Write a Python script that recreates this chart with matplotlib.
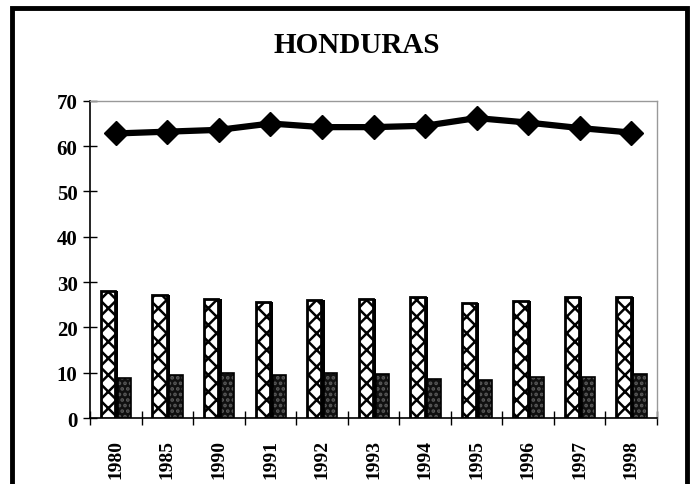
import numpy as np
import matplotlib.pyplot as plt
from matplotlib.patches import Rectangle

years = ['1980', '1985', '1990', '1991', '1992', '1993', '1994', '1995', '1996', '1997', '1998']
line_vals = [62.8, 63.2, 63.6, 65.0, 64.2, 64.2, 64.5, 66.2, 65.2, 64.0, 63.0]
hatch_vals = [28.0, 27.2, 26.3, 25.7, 26.1, 26.2, 26.7, 25.3, 25.8, 26.8, 26.8]
dark_vals = [8.8, 9.5, 10.0, 9.5, 10.0, 9.7, 8.7, 8.5, 9.0, 9.0, 9.7]

plt.rcParams['font.family'] = 'Liberation Serif'
plt.rcParams['hatch.linewidth'] = 1.8

fig = plt.figure(figsize=(6.93, 4.85), dpi=100)
ax = fig.add_axes([0.130, 0.136, 0.818, 0.654])

x = np.arange(len(years))

# hatched bars with a black "shadow" side
ax.bar(x - 0.11, hatch_vals, width=0.32, color='black', zorder=2)
ax.bar(x - 0.15, hatch_vals, width=0.28, facecolor='white', edgecolor='black',
       hatch='xx', linewidth=2, zorder=3)
# dark dotted bars
ax.bar(x + 0.17, dark_vals, width=0.26, facecolor='#101010', edgecolor='#5a5a5a',
       hatch='...', linewidth=0, zorder=2)
ax.bar(x + 0.17, dark_vals, width=0.26, facecolor='none', edgecolor='black',
       linewidth=1.2, zorder=3)

ax.plot(x, line_vals, color='black', linewidth=4.5, marker='D', markersize=12, zorder=4)

ax.set_xlim(-0.5, len(years) - 0.5)
ax.set_ylim(0, 70)
ax.set_yticks(range(0, 71, 10))
ax.set_yticklabels([str(v) for v in range(0, 71, 10)], fontsize=15, fontweight='bold')
ax.tick_params(axis='y', direction='inout', length=10, width=1, pad=4)

ax.set_xticks(x)
ax.set_xticklabels(years, rotation=90, fontsize=14, fontweight='bold')
ax.tick_params(axis='x', length=0, pad=15)
ax.set_xticks(np.arange(-0.5, len(years), 1), minor=True)
ax.tick_params(axis='x', which='minor', direction='inout', length=10, width=1)

for s in ['top', 'right']:
    ax.spines[s].set_color('#999999')
    ax.spines[s].set_linewidth(1)
ax.spines['left'].set_linewidth(1.2)
ax.spines['bottom'].set_linewidth(1.2)

fig.text(0.515, 0.907, 'HONDURAS', ha='center', va='center', fontsize=21, fontweight='bold')

# outer frame
fig.patches.append(Rectangle((0.017, -0.05), 0.975, 1.032, transform=fig.transFigure,
                             fill=False, edgecolor='black', linewidth=3.5))

fig.savefig('out.png', dpi=100)
